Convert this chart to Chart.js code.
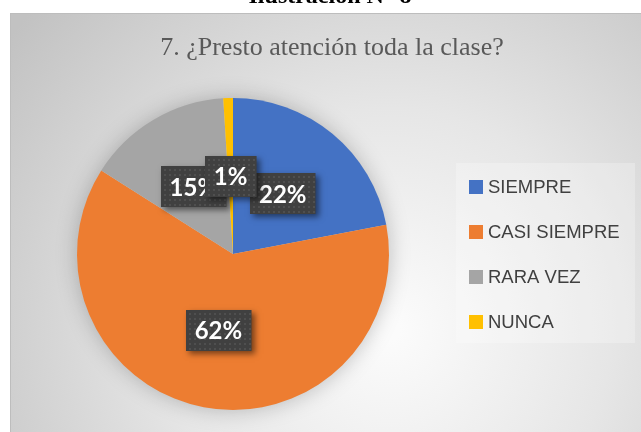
<!DOCTYPE html>
<html>
<head>
<meta charset="utf-8">
<script src="https://cdn.jsdelivr.net/npm/chart.js@4/dist/chart.umd.min.js"></script>
<style>
  html, body { margin: 0; padding: 0; background: #fff; }
  #wrap { width: 641px; height: 432px; position: relative; }
</style>
</head>
<body>
<div id="wrap"><canvas id="grafico" width="641" height="432"></canvas></div>
<script>
// datos del gráfico
const categorias = ['SIEMPRE', 'CASI SIEMPRE', 'RARA VEZ', 'NUNCA'];
const porcentajes = [22, 62, 15, 1];
const colores = ['#4472C4', '#ED7D31', '#A5A5A5', '#FFC000'];
const titulo = '7. ¿Presto atención toda la clase?';
const encabezado = 'Ilustración N° 8';

// fondo, encabezado y titulo
const fondoPlugin = {
  id: 'fondo',
  beforeDraw(chart) {
    const ctx = chart.ctx;
    ctx.save();
    const g = ctx.createRadialGradient(390, 330, 10, 390, 330, 480);
    g.addColorStop(0, '#fbfbfb');
    g.addColorStop(0.45, '#e6e6e6');
    g.addColorStop(1, '#c2c2c2');
    ctx.fillStyle = g;
    ctx.fillRect(10, 13, 631, 419);
    ctx.fillStyle = '#bdbdbd';
    ctx.fillRect(10, 13, 631, 1);
    ctx.fillRect(10, 13, 1, 419);

    ctx.fillStyle = '#000';
    ctx.font = 'bold 24px "Liberation Serif"';
    ctx.textAlign = 'center';
    ctx.textBaseline = 'alphabetic';
    ctx.fillText(encabezado, 330, 3);

    ctx.fillStyle = '#595959';
    ctx.font = '26px "Liberation Serif"';
    ctx.fillText(titulo, 332, 55);

    // leyenda
    ctx.fillStyle = 'rgba(255,255,255,0.25)';
    ctx.fillRect(456, 163, 179, 180);
    ctx.font = '18.5px "Liberation Sans"';
    ctx.textAlign = 'left';
    ctx.textBaseline = 'middle';
    categorias.forEach((c, i) => {
      const y = 187 + i * 45;
      ctx.fillStyle = colores[i];
      ctx.fillRect(469, y - 7, 14, 14);
      ctx.fillStyle = '#404040';
      ctx.fillText(c, 488, y + 1);
    });
    ctx.restore();
  },
  beforeDatasetsDraw(chart) {
    const arc = chart.getDatasetMeta(0).data[0];
    if (!arc) return;
    const ctx = chart.ctx;
    ctx.save();
    ctx.shadowColor = 'rgba(0,0,0,0.25)';
    ctx.shadowBlur = 22;
    ctx.fillStyle = '#d0d0d0';
    ctx.beginPath();
    ctx.arc(arc.x, arc.y, arc.outerRadius - 1, 0, Math.PI * 2);
    ctx.fill();
    ctx.restore();
  }
};

// etiquetas con caja oscura
const etiquetasPlugin = {
  id: 'etiquetas',
  afterDatasetsDraw(chart) {
    const ctx = chart.ctx;
    const meta = chart.getDatasetMeta(0);
    ctx.save();
    ctx.font = 'bold 24px Lato';
    ctx.textAlign = 'center';
    ctx.textBaseline = 'middle';
    meta.data.forEach((a, i) => {
      const p = a.getProps(['x', 'y', 'startAngle', 'endAngle', 'outerRadius'], true);
      const mid = (p.startAngle + p.endAngle) / 2;
      const cx = p.x + Math.cos(mid) * p.outerRadius * 0.5;
      const cy = p.y + Math.sin(mid) * p.outerRadius * 0.5;
      const txt = porcentajes[i] + '%';
      const w = ctx.measureText(txt).width + 18;
      const h = 41;
      const x0 = Math.round(cx - w / 2), y0 = Math.round(cy - h / 2);
      ctx.save();
      ctx.shadowColor = 'rgba(0,0,0,0.5)';
      ctx.shadowBlur = 6;
      ctx.shadowOffsetX = 3;
      ctx.shadowOffsetY = 3;
      ctx.fillStyle = '#404040';
      ctx.fillRect(x0, y0, w, h);
      ctx.restore();
      ctx.fillStyle = '#4f4f4f';
      for (let yy = y0 + 3; yy < y0 + h - 1; yy += 5) {
        for (let xx = x0 + 3; xx < x0 + w - 1; xx += 5) {
          ctx.fillRect(xx, yy, 2, 2);
        }
      }
      ctx.fillStyle = '#ffffff';
      ctx.fillText(txt, cx, cy + 1);
    });
    ctx.restore();
  }
};

new Chart(document.getElementById('grafico'), {
  type: 'pie',
  data: {
    labels: categorias,
    datasets: [{
      data: porcentajes,
      backgroundColor: colores,
      borderWidth: 0
    }]
  },
  options: {
    responsive: false,
    animation: false,
    layout: { padding: { left: 77, top: 98, right: 252, bottom: 22 } },
    plugins: {
      legend: { display: false },
      title: { display: false },
      tooltip: { enabled: false }
    }
  },
  plugins: [fondoPlugin, etiquetasPlugin]
});
</script>
</body>
</html>
